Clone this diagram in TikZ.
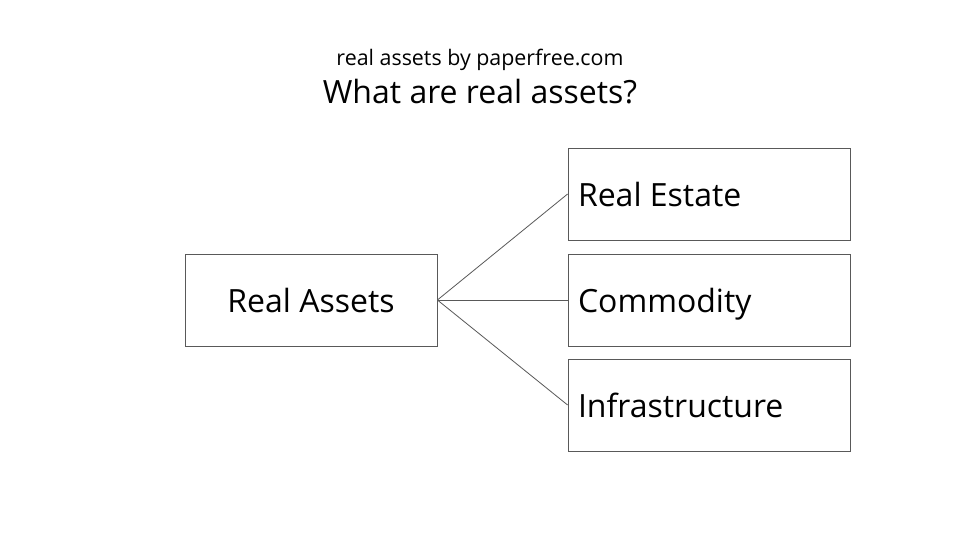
\documentclass[tikz,border=0pt]{standalone}
\usepackage{fontspec}
\setmainfont{Open Sans}
\begin{document}
\begin{tikzpicture}[x=1pt,y=-1pt,
  box/.style={draw=black!65,line width=0.8pt,minimum width=282pt,minimum height=92pt,inner sep=0pt,font=\fontsize{32}{36}\selectfont,text height=24pt,text depth=0pt},
  leaf/.style={box,text width=262pt,align=flush left,inner xsep=10pt,minimum width=0pt},
  link/.style={draw=black!65,line width=0.8pt}]
\useasboundingbox[fill=white] (0,0) rectangle (960,540);
\node[font=\fontsize{21.4}{24}\selectfont] (sub) at (480,60) {real assets by paperfree.com};
\node[font=\fontsize{32}{36}\selectfont] (title) at (480,92) {What are real assets?};
\node[box,minimum width=252pt] (root) at (311,300) {Real Assets};
\node[leaf] (re) at (709,194) {Real Estate};
\node[leaf] (co) at (709,300) {Commodity};
\node[leaf] (in) at (709,405) {Infrastructure};
\draw[link] (root.east) -- (re.west);
\draw[link] (root.east) -- (co.west);
\draw[link] (root.east) -- (in.west);
\end{tikzpicture}
\end{document}
